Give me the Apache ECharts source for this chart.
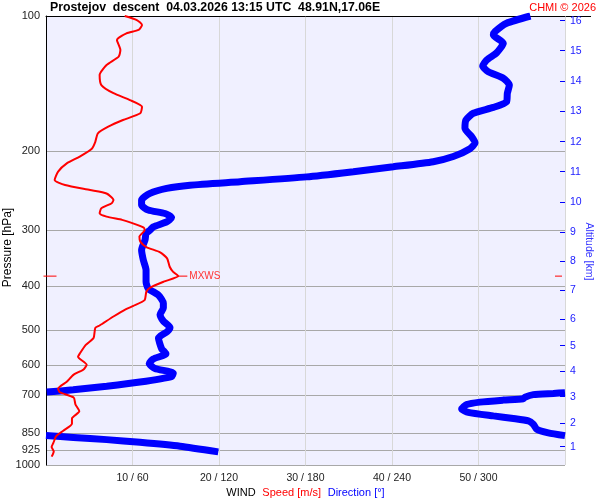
<!DOCTYPE html>
<html><head><meta charset="utf-8">
<script src="https://cdn.jsdelivr.net/npm/echarts@6/dist/echarts.min.js"></script>
<style>html,body{margin:0;padding:0;background:#fff}#c{width:600px;height:500px}</style>
</head><body><div id="c"></div>
<script>
// ---- data ----
const titleText = 'Prostejov  descent  04.03.2026 13:15 UTC  48.91N,17.06E';
const creditText = 'CHMI \u00a9 2026';
const pressureTicks = [100, 200, 300, 400, 500, 600, 700, 850, 925, 1000];
const altKm = [1, 2, 3, 4, 5, 6, 7, 8, 9, 10, 11, 12, 13, 14, 15, 16];
const altP  = [910.5, 806.3, 704.4, 617.5, 542.4, 473.1, 407.6, 351.3, 303.2, 259.6, 222.2, 190.5, 162.7, 139.5, 119.5, 102.4];
const speedTicks = [0, 10, 20, 30, 40, 50, 60];

// wind speed profile [m/s] vs pressure [hPa]
const speedP = [100, 102.1, 104.7, 107.4, 109.3, 113.1, 119, 123.2, 128.6, 135.3, 142.5, 148.6, 153.9, 159.3, 164.7,
  170.5, 176.4, 182.5, 190.6, 197.5, 205.6, 212.9, 222.1, 231.9, 238, 244.2, 248.5, 256.9, 261.2, 268, 275, 279.8,
  284.5, 288.9, 296, 300, 310, 318, 327, 336, 346.6, 361.8, 371.5, 379.6, 390.6, 403, 411.3, 429.4, 442.3, 450,
  467, 489, 495, 521.5, 540, 565, 574, 598, 613.5, 629, 652.6, 676, 688.6, 707.4, 732.5, 759.5, 787.6, 809.4,
  838.7, 861.7, 893, 912, 933, 958];
const speedV = [9.1, 10.5, 11.1, 10.7, 9.3, 8.2, 8.6, 8.4, 7.0, 6.2, 6.4, 7.8, 9.7, 11.1, 10.9,
  8.9, 7.2, 6.0, 5.7, 5.3, 3.9, 2.4, 1.4, 1.0, 2.2, 5.1, 7.0, 7.8, 7.6, 6.4, 6.2, 7.0,
  8.8, 9.9, 11.3, 11.4, 10.8, 10.9, 11.6, 13.2, 14.0, 14.3, 14.7, 15.3, 13.6, 12.0, 11.6, 11.4, 10.1, 9.2,
  7.8, 6.2, 5.7, 5.5, 4.6, 3.9, 3.7, 4.7, 4.3, 3.2, 2.4, 1.4, 1.6, 3.2, 3.4, 3.85, 3.0, 3.0,
  2.0, 1.2, 0.85, 0.65, 0.9, 0.65];
const mxwsP = 379.6;
const mxwsV = 15.3;

// wind direction profile [deg] vs pressure [hPa]; null = wrap 0/360
const dirP = [100, 103.8, 108.4, 110.2, 115, 120.7, 125.3, 129.2, 133.1, 137.6, 142.5, 148.6, 155.2, 159.8, 164.7,
  170.5, 177.9, 185.8, 191.7, 197.5, 205.6, 211.1, 216.7, 222.2, 228.2, 233.9, 238.1, 242, 248.3, 256.9, 263.6,
  270.5, 275.3, 281.2, 287.5, 295, 300, 305, 315.3, 331.9, 349.5, 367.9, 390.6, 404.6, 418.1, 436, 447, 462.3,
  478.2, 494, 505, 521.5, 550.6, 565.3, 580.8, 594.5, 609.6, 624.2, 635.5, 653.6, 667.8, 680, 688,
  689, 690.3, 692.9, 697, 706.3, 712, 716.9, 724.3, 733.6, 750.3, 763.5, 777.4, 787.6, 797.3, 811.2, 832.5, 847.8, 860,
  860.05, 860.1, 868, 878, 890, 908, 935];
const dirV = [336, 319.5, 311.4, 310.3, 317.2, 312.6, 305.7, 302.9, 306.8, 317.2, 321.4, 320, 319.5, 310.3, 296.4,
  291.3, 290.6, 295.3, 297.6, 294.1, 282.5, 268.6, 240.9, 213.2, 180.8, 134.6, 99.9, 83.7, 72.1, 66.3, 66.3,
  70.9, 82.5, 87.1, 83.7, 74.4, 72.1, 69.4, 68.7, 66.3, 67.5, 69.4, 69.4, 70.9, 77.9, 81.4, 81.4, 79.1,
  81.4, 86, 84, 78, 80.2, 83.2, 74.4, 71.6, 75.6, 88.3, 87.1, 65.2, 42.1, 18.9, 0.5,
  null, 360, 351.9, 338, 332.2, 331.1, 317.2, 301, 291.8, 288.3, 292.9, 310.3, 324.2, 334.6, 338, 340.4, 348.4, 360,
  null, 0, 19, 42.1, 65.2, 93, 119.5];

// ---- chart ----
const FONT = '"Liberation Sans", Arial, sans-serif';
const chart = echarts.init(document.getElementById('c'), null, {renderer: 'canvas'});
const log10 = v => Math.log10(v);
const nearestAlt = v => {
  let best = 0, bd = Infinity;
  altP.forEach((p, i) => { const d = Math.abs(log10(p) - v); if (d < bd) { bd = d; best = i; } });
  return String(altKm[best]);
};

const option = {
  backgroundColor: '#ffffff',
  animation: false,
  textStyle: {fontFamily: FONT},
  title: [
    {text: titleText, left: 50, top: 2, padding: 0, textStyle: {fontSize: 12.3, fontWeight: 'bold', color: '#000', fontFamily: FONT}},
    {text: creditText, right: 4, top: 2, padding: 0, textStyle: {fontSize: 11, fontWeight: 'normal', color: '#ff0000', fontFamily: FONT}}
  ],
  grid: {left: 46, right: 35, top: 16, bottom: 35, show: true, backgroundColor: '#f0f0ff', borderWidth: 0,
    containLabel: false, outerBoundsMode: 'none'},
  xAxis: [
    {
      type: 'value', min: 0, max: 60, interval: 10, position: 'bottom',
      axisLine: {show: false, onZero: false}, axisTick: {show: false},
      axisLabel: {formatter: v => (v > 0 && v < 60) ? v + ' / ' + v * 6 : '', color: '#222', fontSize: 10.5, margin: 8, fontFamily: FONT},
      splitLine: {show: true, lineStyle: {color: '#d8d8d8', width: 1}},
      name: '{w|WIND}  {s|Speed [m/s]}  {d|Direction [\u00b0]}', nameLocation: 'middle', nameGap: 22, nameMoveOverlap: false,
      nameTextStyle: {rich: {
        w: {color: '#000', fontSize: 11, fontFamily: FONT},
        s: {color: '#ff0000', fontSize: 11, fontFamily: FONT},
        d: {color: '#0000ff', fontSize: 11, fontFamily: FONT}}}
    },
    {
      type: 'value', min: 0, max: 360, position: 'top',
      axisLine: {show: true, onZero: false, lineStyle: {color: '#000', width: 1}},
      axisTick: {show: false}, axisLabel: {show: false}, splitLine: {show: false}
    }
  ],
  yAxis: [
    { // data axis: pressure, logarithmic
      type: 'log', logBase: 10, min: 100, max: 1000, inverse: true, position: 'left',
      axisLine: {show: true, onZero: false, lineStyle: {color: '#000', width: 1}},
      axisTick: {show: false}, axisLabel: {show: false}, splitLine: {show: false}, minorSplitLine: {show: false}
    },
    { // pressure labels + grid
      type: 'value', min: 2, max: 3, inverse: true, position: 'left',
      axisLine: {show: false, onZero: false},
      axisTick: {show: false, customValues: pressureTicks.map(log10)},
      axisLabel: {customValues: pressureTicks.map(log10), formatter: v => String(Math.round(Math.pow(10, v))),
        color: '#222', fontSize: 11, margin: 6, fontFamily: FONT},
      splitLine: {show: true, lineStyle: {color: '#a8a8a8', width: 1}},
      name: 'Pressure [hPa]', nameLocation: 'middle', nameRotate: 90, nameGap: 32, nameMoveOverlap: false,
      nameTextStyle: {color: '#000', fontSize: 12, fontFamily: FONT, padding: [0, 14, 0, 0]}
    },
    { // altitude axis
      type: 'value', min: 2, max: 3, inverse: true, position: 'right',
      axisLine: {show: false, onZero: false},
      axisTick: {show: true, inside: true, length: 5, customValues: altP.map(log10), lineStyle: {color: '#0000ff', width: 1}},
      axisLabel: {customValues: altP.map(log10), formatter: nearestAlt, color: '#1a1aff', fontSize: 10.5, margin: 5, fontFamily: FONT},
      splitLine: {show: false},
      name: 'Altitude [km]', nameLocation: 'middle', nameRotate: -90, nameGap: 18, nameMoveOverlap: false,
      nameTextStyle: {color: '#3333ff', fontSize: 10.5, fontFamily: FONT, padding: [0, 0, 0, 22]}
    }
  ],
  graphic: [
    {type: 'line', shape: {x1: 565, y1: 16.5, x2: 591, y2: 16.5}, style: {stroke: '#000', lineWidth: 1}, silent: true}
  ],
  series: [
    {
      name: 'Direction', type: 'line', xAxisIndex: 1, yAxisIndex: 0,
      data: dirP.map((p, i) => [dirV[i] === null ? '-' : dirV[i], p]),
      showSymbol: false, smooth: 0.2, connectNulls: false,
      lineStyle: {color: '#0000ff', width: 7}, z: 2
    },
    {
      name: 'Speed', type: 'line', xAxisIndex: 0, yAxisIndex: 0,
      data: speedP.map((p, i) => [speedV[i], p]),
      showSymbol: false, smooth: 0.2,
      lineStyle: {color: '#ff0000', width: 2}, z: 3,
      markPoint: {
        silent: true, symbol: 'rect', itemStyle: {color: '#ff0000'},
        data: [
          {coord: [mxwsV, mxwsP], symbolSize: [9, 1], symbolOffset: [4.5, 0],
           label: {show: true, position: 'right', distance: 2, formatter: 'MXWS', color: '#ff3333', fontSize: 10, fontFamily: FONT}},
          {coord: [speedTicks[0], mxwsP], symbolSize: [13, 1], symbolOffset: [4, 0], label: {show: false}},
          {coord: [speedTicks[speedTicks.length - 1], mxwsP], symbolSize: [7, 1], symbolOffset: [-6.5, 0], label: {show: false}}
        ]
      }
    }
  ]
};
chart.setOption(option);
</script></body></html>
